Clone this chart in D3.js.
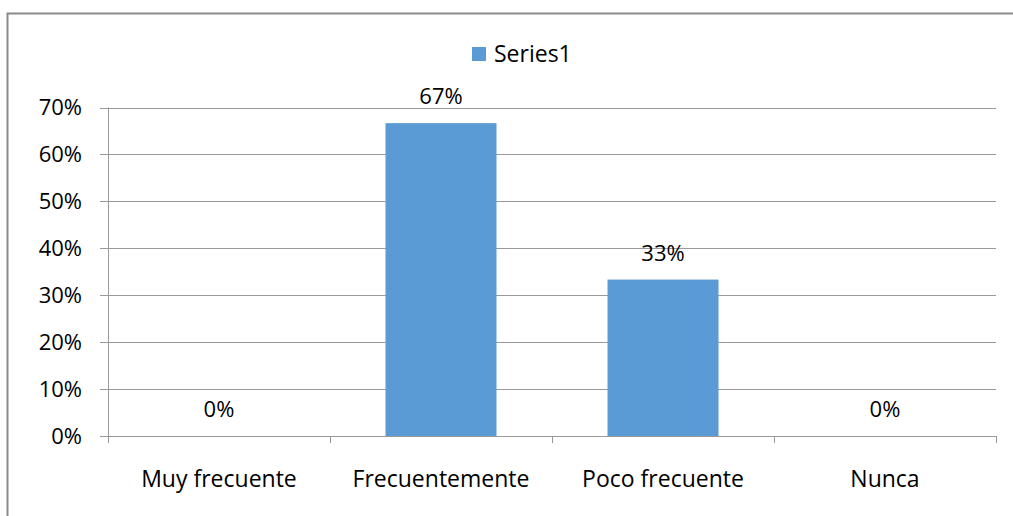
<!DOCTYPE html>
<html><head><meta charset="utf-8">
<script src="https://cdn.jsdelivr.net/npm/d3@7"></script>
<style>body{margin:0;background:#fff}svg{display:block}text{font-family:"Open Sans",sans-serif;fill:#000}</style>
</head><body><svg id="c" width="1013" height="516"></svg>
<script>
const categories = ["Muy frecuente","Frecuentemente","Poco frecuente","Nunca"];
const values = [0, 0.6667, 0.3333, 0];
const dataLabels = ["0%","67%","33%","0%"];
const yTicks = [0,0.1,0.2,0.3,0.4,0.5,0.6,0.7];
const seriesName = "Series1";

const svg = d3.select("#c");
const grid = "#9a9a9a";
// outer border (only left and top visible)
svg.append("rect").attr("x",7.5).attr("y",13.5).attr("width",1100).attr("height",600)
  .attr("fill","none").attr("stroke","#8a8a8a").attr("stroke-width",2);

const L=108, R=996, T=107.5, B=436;
const x = d3.scaleBand().domain(categories).range([L,R]).paddingInner(0.5).paddingOuter(0.25);
const y = d3.scaleLinear().domain([0,0.7]).range([B,T]);

// gridlines
svg.append("g").selectAll("line").data(yTicks).join("line")
  .attr("x1",L-8).attr("x2",R).attr("y1",d=>Math.round(y(d))+0.5).attr("y2",d=>Math.round(y(d))+0.5)
  .attr("stroke",grid).attr("stroke-width",1);
// y labels
svg.append("g").selectAll("text").data(yTicks).join("text")
  .attr("x",82).attr("y",d=>y(d)).attr("dy","0.36em").attr("text-anchor","end")
  .attr("font-size",22).text(d=>d3.format(".0%")(d));
// y axis line
svg.append("line").attr("x1",L+0.5).attr("x2",L+0.5).attr("y1",T).attr("y2",B+7).attr("stroke",grid);
// category ticks
const edges = [L, ...categories.map((c,i)=>L+(i+1)*(R-L)/categories.length)];
svg.append("g").selectAll("line").data(edges).join("line")
  .attr("x1",d=>Math.round(d)+0.5).attr("x2",d=>Math.round(d)+0.5).attr("y1",B).attr("y2",B+7).attr("stroke",grid);
// bars
svg.append("g").selectAll("rect").data(values).join("rect")
  .attr("x",(d,i)=>x(categories[i])).attr("width",x.bandwidth())
  .attr("y",d=>y(d)).attr("height",d=>B-y(d)).attr("fill","#5b9bd5");
// data labels
svg.append("g").selectAll("text").data(values).join("text")
  .attr("x",(d,i)=>x(categories[i])+x.bandwidth()/2).attr("y",d=>y(d)-19)
  .attr("text-anchor","middle").attr("font-size",22).text((d,i)=>dataLabels[i]);
// category labels
svg.append("g").selectAll("text").data(categories).join("text")
  .attr("x",d=>x(d)+x.bandwidth()/2).attr("y",487).attr("text-anchor","middle")
  .attr("font-size",23).text(d=>d);
// legend
svg.append("rect").attr("x",472).attr("y",47).attr("width",14).attr("height",14).attr("fill","#5b9bd5");
svg.append("text").attr("x",494).attr("y",62).attr("font-size",23).text(seriesName);
</script></body></html>
